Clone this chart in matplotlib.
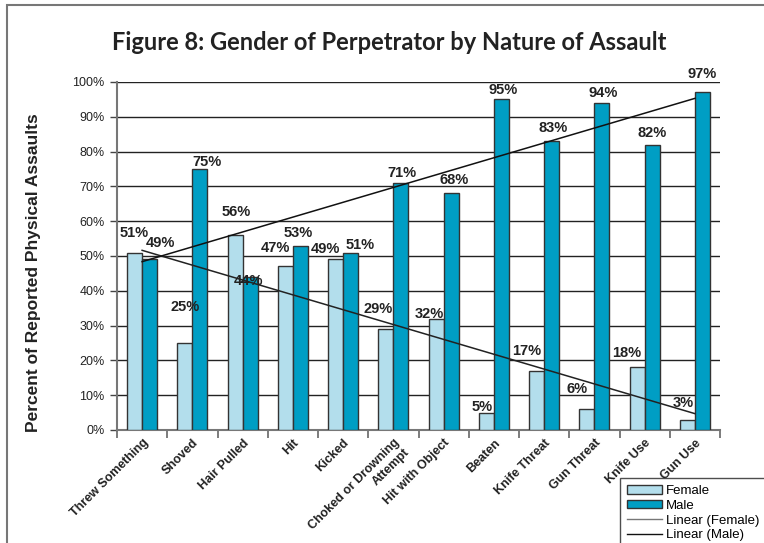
import matplotlib
matplotlib.use("Agg")
import matplotlib.pyplot as plt
import numpy as np
from matplotlib.patches import Rectangle, Patch
from matplotlib.lines import Line2D

categories = ["Threw Something", "Shoved", "Hair Pulled", "Hit", "Kicked",
              "Choked or Drowning\nAttempt", "Hit with Object", "Beaten",
              "Knife Threat", "Gun Threat", "Knife Use", "Gun Use"]
female = [51, 25, 56, 47, 49, 29, 32, 5, 17, 6, 18, 3]
male = [49, 75, 44, 53, 51, 71, 68, 95, 83, 94, 82, 97]
yticks = [0, 10, 20, 30, 40, 50, 60, 70, 80, 90, 100]

# label offsets (pixels) relative to bar top centre
f_off = [(0, 20), (0, 36), (1, 23), (-10, 18), (-10, 10), (-8, 20), (-7, 5),
         (-4, 6), (-10, 20), (-10, 20), (-10, 14), (-4, 17)]
m_off = [(11, 16), (7, 7), (-2, -4), (-2, 13), (9, 8), (1, 10), (3, 13),
         (2, 9), (1, 13), (1, 10), (0, 12), (0, 18)]

plt.rcParams['font.family'] = ['Liberation Sans', 'DejaVu Sans']

W, H = 764, 543
fig = plt.figure(figsize=(W / 100, H / 100), dpi=100)
ax = fig.add_axes([117 / W, 1 - 430 / H, (720 - 117) / W, (430 - 82) / H])

x = np.arange(1, len(categories) + 1)
bw = 0.30
fc = "#B3DEEC"
mc = "#009EC4"
ax.bar(x - bw / 2, female, bw, color=fc, edgecolor="#333333", linewidth=1, zorder=3)
ax.bar(x + bw / 2, male, bw, color=mc, edgecolor="#333333", linewidth=1, zorder=3)

# linear trendlines
pf = np.polyfit(x, female, 1)
pm = np.polyfit(x, male, 1)
ax.plot(x, np.polyval(pf, x), color="#222222", lw=1.1, zorder=4)
ax.plot(x, np.polyval(pm, x), color="#111111", lw=1.1, zorder=4)

for i in range(len(x)):
    ax.annotate(f"{female[i]}%", (x[i] - bw / 2, female[i]), xytext=f_off[i],
                textcoords="offset pixels", ha="center", va="center",
                fontsize=10.5, fontweight="bold", color="#222222", zorder=6,
                annotation_clip=False)
    ax.annotate(f"{male[i]}%", (x[i] + bw / 2, male[i]), xytext=m_off[i],
                textcoords="offset pixels", ha="center", va="center",
                fontsize=10.5, fontweight="bold", color="#222222", zorder=6,
                annotation_clip=False)

ax.set_xlim(0.5, 12.5)
ax.set_ylim(0, 100)
ax.set_yticks(yticks)
ax.set_yticklabels([f"{v}%" for v in yticks], fontsize=9, color="#222222")
ax.yaxis.grid(True, color="#222222", lw=1, zorder=0)
ax.set_axisbelow(True)
ax.tick_params(axis="y", length=5, color="#444444", width=1, pad=4)

ax.set_xticks(x)
ax.set_xticklabels(categories, rotation=45, ha="right", rotation_mode="anchor",
                   fontsize=9, fontweight="bold", color="#222222",
                   multialignment="right")
ax.tick_params(axis="x", length=0, pad=5)
ax.set_xticks(np.arange(0.5, 13, 1), minor=True)
ax.tick_params(axis="x", which="minor", length=6, color="#666666", width=1.2)

for s in ["top", "right"]:
    ax.spines[s].set_visible(False)
for s in ["left", "bottom"]:
    ax.spines[s].set_color("#777777")
    ax.spines[s].set_linewidth(1.5)

ax.set_ylabel("Percent of Reported Physical Assaults", fontsize=12.5,
              fontweight="bold", color="#222222")
ax.yaxis.set_label_coords(-(117 - 41) / (720 - 117), (430 - 273) / 348)

fig.text(389 / W, 1 - 42 / H, "Figure 8: Gender of Perpetrator by Nature of Assault",
         ha="center", va="center", fontsize=17, fontweight="bold",
         family=["Lato", "DejaVu Sans"], color="#222222")

# figure border
fig.patches.append(Rectangle((7 / W, -0.1), 1.2, 1 - 5 / H + 0.1,
                             transform=fig.transFigure, fill=False,
                             edgecolor="#777777", lw=1.5))

handles = [Patch(facecolor=fc, edgecolor="#333333", label="Female"),
           Patch(facecolor=mc, edgecolor="#333333", label="Male"),
           Line2D([], [], color="#777777", lw=1, label="Linear (Female)"),
           Line2D([], [], color="#111111", lw=1, label="Linear (Male)")]
leg = fig.legend(handles=handles, loc="upper left",
                 bbox_to_anchor=(620 / W, 1 - 478 / H), fontsize=9.5,
                 frameon=True, fancybox=False, edgecolor="#222222",
                 handlelength=2.6, handleheight=0.6, labelspacing=0.2,
                 borderpad=0.55, handletextpad=0.3, borderaxespad=0)
leg.get_frame().set_linewidth(1)

fig.savefig("out.png", dpi=100)
